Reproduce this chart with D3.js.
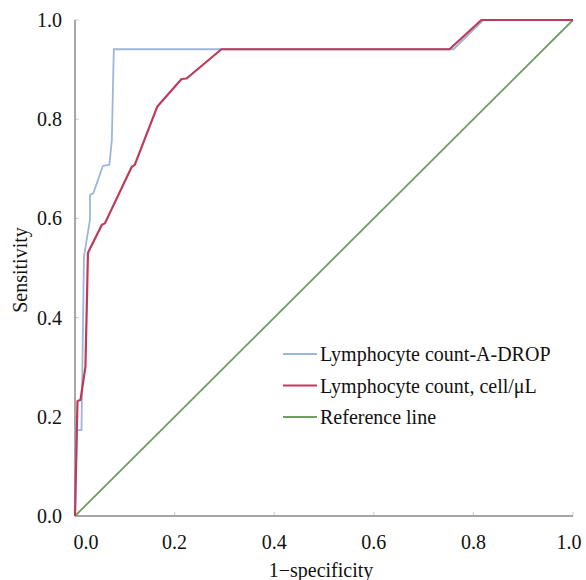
<!DOCTYPE html>
<html>
<head>
<meta charset="utf-8">
<script src="https://cdn.jsdelivr.net/npm/d3@7"></script>
<style>
  body { margin: 0; background: #fff; }
  text { font-family: "Liberation Serif", "DejaVu Serif", serif; fill: #111; }
</style>
</head>
<body>
<div id="chart"></div>
<script>
// ROC points, [1-specificity, sensitivity]
const adropRoc = [[0,0],[0.004,0.173],[0.013,0.173],[0.018,0.523],[0.030,0.597],[0.030,0.647],
  [0.037,0.651],[0.056,0.706],[0.069,0.708],[0.074,0.758],[0.077,0.90],[0.078,0.941],
  [0.760,0.941],[0.820,1.0],[1.0,1.0]]
const countRoc = [[0,0],[0.004,0.19],[0.005,0.232],[0.011,0.234],[0.021,0.301],[0.026,0.530],
  [0.028,0.535],[0.054,0.587],[0.060,0.590],[0.114,0.704],[0.120,0.708],[0.165,0.825],
  [0.214,0.881],[0.224,0.882],[0.294,0.941],[0.752,0.941],[0.816,1.0],[1.0,1.0]]
const refLine = [[0,0],[1,1]]

const seriesNames  = ['Lymphocyte count-A-DROP', 'Lymphocyte count, cell/\u03bcL', 'Reference line']
const seriesColors = ['#9db6da', '#bf3a5a', '#6e9e63']
const ticks = [0, 0.2, 0.4, 0.6, 0.8, 1.0]

var margin = {top: 20, right: 13, bottom: 64, left: 75}
var width  = 586 - margin.left - margin.right
var height = 580 - margin.top - margin.bottom

var svg = d3.select('#chart')
  .append('svg').attr('width', 586).attr('height', 580)
  .append('g').attr('transform', 'translate(' + margin.left + ',' + margin.top + ')')

var x = d3.scaleLinear().domain([0, 1]).range([0, width])
var y = d3.scaleLinear().domain([0, 1]).range([height, 0])

// small inward ticks
svg.selectAll('.xt').data(ticks.slice(1)).enter().append('line')
  .attr('x1', d => x(d)).attr('x2', d => x(d)).attr('y1', height).attr('y2', height - 4)
  .attr('stroke', '#ccc')
svg.selectAll('.yt').data(ticks.slice(1)).enter().append('line')
  .attr('x1', 0).attr('x2', 4).attr('y1', d => y(d)).attr('y2', d => y(d))
  .attr('stroke', '#ccc')

// axis lines
svg.append('line').attr('x1', 0).attr('x2', 0).attr('y1', 0).attr('y2', height)
  .attr('stroke', '#8a8a8a').attr('stroke-width', 1.5)
svg.append('line').attr('x1', 0).attr('x2', width).attr('y1', height).attr('y2', height)
  .attr('stroke', '#8a8a8a').attr('stroke-width', 1.5)

// tick labels
svg.selectAll('.xl').data(ticks).enter().append('text')
  .attr('x', (d, i) => x(d) + (i == 0 ? 11 : (i == ticks.length - 1 ? -4 : 0)))
  .attr('y', height + 33)
  .attr('text-anchor', 'middle').style('font-size', '20px')
  .text(d => d3.format('.1f')(d))
svg.selectAll('.yl').data(ticks).enter().append('text')
  .attr('x', -13).attr('y', d => y(d)).attr('dy', '0.35em')
  .attr('text-anchor', 'end').style('font-size', '20px')
  .text(d => d3.format('.1f')(d))

// axis titles
svg.append('text').attr('x', width / 2 - 3).attr('y', height + 61)
  .attr('text-anchor', 'middle').style('font-size', '20px').text('1\u2212specificity')
svg.append('text').attr('transform', 'rotate(-90)')
  .attr('x', -250).attr('y', -48)
  .attr('text-anchor', 'middle').style('font-size', '20px').text('Sensitivity')

var line = d3.line().x(d => x(d[0])).y(d => y(d[1]))
var allSeries = [adropRoc, countRoc, refLine]
// draw reference first, then blue, then red on top
;[2, 0, 1].forEach(function(i) {
  svg.append('path')
    .datum(allSeries[i])
    .attr('fill', 'none')
    .attr('stroke', seriesColors[i])
    .attr('stroke-width', i == 1 ? 2.2 : 1.8)
    .attr('stroke-linejoin', 'round')
    .attr('d', line)
})

// legend
var legend = svg.append('g').attr('transform', 'translate(208,334)')
seriesNames.forEach(function(name, i) {
  legend.append('line').attr('x1', 0).attr('x2', 34).attr('y1', i * 31.5).attr('y2', i * 31.5)
    .attr('stroke', seriesColors[i]).attr('stroke-width', 2)
  legend.append('text').attr('x', 37).attr('y', i * 31.5).attr('dy', '0.35em')
    .style('font-size', '20px').text(name)
})
</script>
</body>
</html>
